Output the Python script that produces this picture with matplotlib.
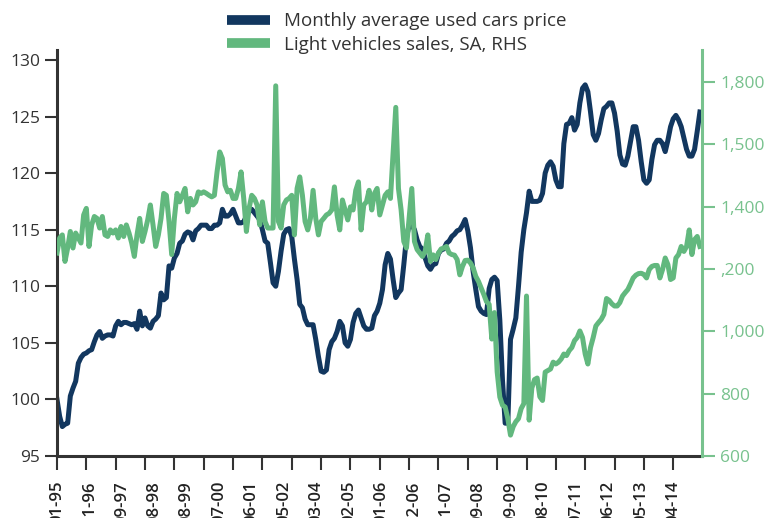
import matplotlib
matplotlib.use("Agg")
import matplotlib.pyplot as plt
import numpy as np

plt.rcParams['font.family'] = ['Open Sans', 'DejaVu Sans']

# Monthly average used cars price (LHS), monthly from 01-95
used_price = [
    100.0, 98.5, 97.6, 97.8, 97.9, 100.3, 101.0, 101.6, 103.2, 103.7, 104.0, 104.1,
    104.3, 104.4, 105.1, 105.7, 106.0, 105.4, 105.6, 105.7, 105.7, 105.6, 106.5, 106.9,
    106.6, 106.8, 106.8, 106.7, 106.6, 106.7, 106.2, 107.8, 106.5, 107.2, 106.5, 106.3,
    106.9, 107.1, 107.4, 109.4, 108.8, 109.0, 111.8, 111.6, 112.5, 112.9, 113.8, 114.0,
    114.6, 114.8, 114.7, 114.1, 114.9, 115.1, 115.4, 115.4, 115.4, 115.1, 115.1, 115.4,
    115.4, 115.6, 116.8, 116.2, 116.2, 116.4, 116.8, 116.2, 115.6, 115.6, 115.7, 116.2,
    116.6, 116.8, 116.5, 116.2, 115.9, 115.0, 114.0, 113.8, 112.1, 110.3, 110.0, 111.3,
    113.1, 114.6, 115.0, 115.1, 114.4, 112.4, 110.6, 108.4, 108.1, 107.1, 106.6, 106.6,
    106.6, 105.3, 103.8, 102.5, 102.4, 102.6, 104.4, 105.1, 105.4, 106.0, 106.9, 106.5,
    105.0, 104.7, 105.3, 106.8, 107.6, 107.9, 107.2, 106.5, 106.2, 106.2, 106.3, 107.4,
    107.8, 108.5, 109.7, 111.9, 112.9, 112.4, 110.6, 109.0, 109.4, 109.7, 111.9, 114.3,
    115.4, 115.4, 115.0, 114.1, 113.5, 113.3, 112.5, 111.8, 111.5, 111.9, 112.0, 112.9,
    113.2, 113.3, 113.8, 114.0, 114.4, 114.6, 114.9, 115.0, 115.4, 115.9, 114.9, 113.4,
    111.3, 109.7, 108.2, 107.8, 107.6, 107.5, 109.8, 110.6, 110.8, 110.5, 107.0, 101.7,
    97.9, 97.9, 105.3, 106.2, 107.2, 110.0, 113.0, 115.0, 116.5, 118.4, 117.5, 117.5,
    117.5, 117.6, 118.2, 120.0, 120.7, 121.0, 120.6, 119.4, 118.8, 118.8, 122.6, 124.3,
    124.4, 124.9, 123.8, 124.3, 126.2, 127.5, 127.8, 127.2, 125.4, 123.4, 122.9, 123.5,
    124.7, 125.7, 125.9, 126.2, 126.2, 125.3, 123.7, 121.6, 120.8, 120.7, 121.5, 122.8,
    124.1, 124.1, 122.9, 121.0, 119.4, 119.1, 119.4, 121.2, 122.5, 122.9, 122.9, 122.6,
    121.9, 122.9, 124.1, 124.8, 125.1, 124.7, 124.1, 123.1, 122.1, 121.5, 121.5, 122.1,
    123.7, 125.4,
]

# Light vehicles sales, SA (RHS)
light_sales = [
    1251, 1299, 1309, 1224, 1267, 1320, 1267, 1315, 1299, 1283, 1373, 1394,
    1272, 1341, 1368, 1362, 1331, 1368, 1309, 1304, 1325, 1315, 1325, 1299,
    1336, 1304, 1341, 1315, 1283, 1240, 1309, 1362, 1288, 1320, 1357, 1405,
    1341, 1272, 1309, 1362, 1442, 1436, 1352, 1246, 1362, 1442, 1415, 1436,
    1458, 1383, 1426, 1405, 1415, 1447, 1442, 1447, 1442, 1436, 1431, 1436,
    1511, 1575, 1554, 1469, 1447, 1452, 1426, 1426, 1458, 1511, 1426, 1320,
    1394, 1436, 1426, 1405, 1341, 1415, 1352, 1331, 1331, 1331, 1787, 1352,
    1331, 1405, 1421, 1426, 1436, 1309, 1458, 1495, 1436, 1352, 1325, 1362,
    1452, 1362, 1309, 1352, 1362, 1373, 1378, 1389, 1463, 1373, 1325, 1421,
    1389, 1357, 1399, 1389, 1452, 1479, 1325, 1405, 1415, 1452, 1389, 1442,
    1458, 1373, 1405, 1436, 1447, 1426, 1575, 1718, 1458, 1389, 1288, 1267,
    1362, 1458, 1288, 1262, 1251, 1240, 1256, 1309, 1224, 1245, 1230, 1251,
    1264, 1267, 1272, 1251, 1246, 1244, 1230, 1181, 1208, 1227, 1228, 1219,
    1203, 1176, 1160, 1139, 1118, 1095, 1086, 975, 1060, 870, 789, 763,
    757, 720, 667, 694, 710, 720, 752, 768, 1113, 715, 818, 845,
    850, 790, 778, 869, 874, 879, 901, 895, 901, 911, 927, 922,
    938, 948, 970, 980, 1001, 980, 927, 895, 948, 980, 1017, 1028,
    1038, 1054, 1105, 1099, 1088, 1081, 1081, 1092, 1113, 1124, 1134, 1152,
    1171, 1180, 1185, 1186, 1182, 1171, 1198, 1208, 1211, 1211, 1171, 1198,
    1235, 1214, 1166, 1171, 1235, 1246, 1272, 1256, 1272, 1325, 1246, 1294,
    1304, 1272,
]

x_labels = ['01-95', '11-96', '09-97', '08-98', '08-99', '07-00', '06-01', '05-02',
            '03-04', '02-05', '01-06', '12-06', '11-07', '09-08', '09-09', '08-10',
            '07-11', '06-12', '05-13', '04-14']
left_ticks = [95, 100, 105, 110, 115, 120, 125, 130]
right_ticks = [600, 800, 1000, 1200, 1400, 1600, 1800]
right_labels = ['600', '800', '1,000', ',200', '1,400', '1,500', '1,800']

blue = '#12375f'
green = '#62b87e'
green_axis = '#78c28e'
dark = '#333333'

months = np.arange(len(used_price))

fig = plt.figure(figsize=(7.67, 5.18), dpi=100)
ax = fig.add_axes([0.0743, 0.1197, 0.8410, 0.7838])
ax2 = ax.twinx()

l1, = ax.plot(months, used_price, color=blue, lw=3.6, solid_joinstyle='round',
              label='Monthly average used cars price')
l2, = ax2.plot(months, light_sales, color=green, lw=3.6, solid_joinstyle='round',
               label='Light vehicles sales, SA, RHS')

ax.set_xlim(0, 241.8)
ax.set_ylim(95, 130.88)
ax2.set_ylim(600, 1902)

ax.set_yticks(left_ticks)
ax.tick_params(axis='y', direction='out', length=9, width=1.5, color=dark,
               labelsize=12.5, labelcolor=dark, pad=3)
ax2.set_yticks(right_ticks)
ax2.set_yticklabels(right_labels)
ax2.tick_params(axis='y', direction='out', length=9, width=1.5, color=green_axis,
                labelsize=12.5, labelcolor=green_axis, pad=4)

# labels spread on their own positions, tick marks every 11 months
ax.xaxis.set_remove_overlapping_locs(False)
ax.set_xticks(np.linspace(0, 231, len(x_labels)))
ax.set_xticklabels(x_labels, rotation=90, va='top', ha='center', fontweight='semibold')
ax.set_xticks(np.arange(0, 232, 11), minor=True)
ax.tick_params(axis='x', which='major', length=0, pad=18, labelsize=12, labelcolor='#222222')
ax.tick_params(axis='x', which='minor', direction='out', length=10, width=1.5, color=dark)

ax.spines['top'].set_visible(False)
ax2.spines['top'].set_visible(False)
ax.spines['right'].set_visible(False)
ax2.spines['left'].set_visible(False)
ax2.spines['bottom'].set_visible(False)
ax.spines['left'].set_color(dark)
ax.spines['left'].set_linewidth(2.2)
ax.spines['bottom'].set_color(dark)
ax.spines['bottom'].set_linewidth(2.2)
ax2.spines['right'].set_color(green_axis)
ax2.spines['right'].set_linewidth(2.2)

leg = fig.legend(handles=[l1, l2], loc='center left', bbox_to_anchor=(0.296, 0.936),
                 frameon=False, fontsize=13.5, handlelength=2.3, handletextpad=0.75,
                 labelspacing=0.3, borderpad=0, borderaxespad=0)
for h in leg.legend_handles:
    h.set_linewidth(7)
    h.set_solid_capstyle('butt')
for t in leg.get_texts():
    t.set_color(dark)

fig.savefig('out.png', dpi=100)
